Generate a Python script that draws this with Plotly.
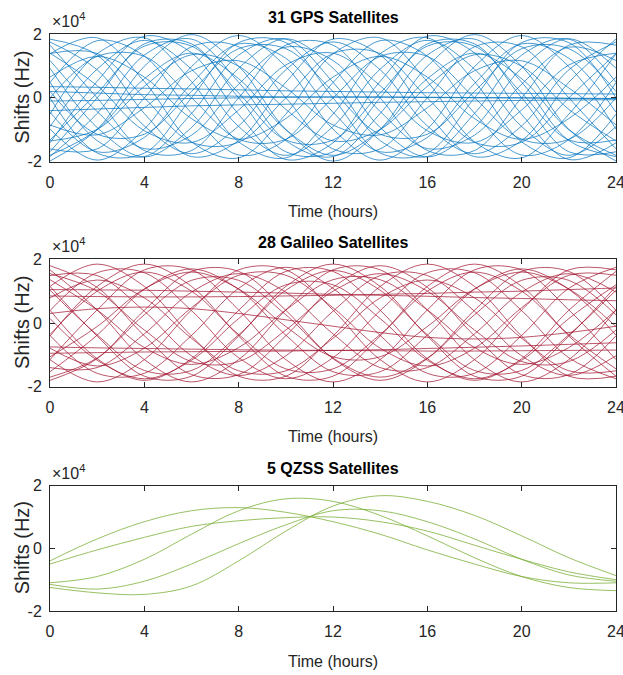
import plotly.graph_objects as go
from plotly.subplots import make_subplots

# ---------------- data (Doppler shifts in units of 10^4 Hz, sampled every 2 h) ----------------
hours = [0, 2, 4, 6, 8, 10, 12, 14, 16, 18, 20, 22, 24]

gps_shifts = [
    [1.75, 0.88, -0.88, -1.75, -0.88, 0.88, 1.75, 0.88, -0.88, -1.75, -0.88, 0.88, 1.75],
    [1.84, 1.34, -0.49, -1.84, -1.34, 0.49, 1.84, 1.34, -0.49, -1.84, -1.34, 0.49, 1.84],
    [1.39, 1.39, 0.0, -1.39, -1.39, 0.0, 1.39, 1.39, 0.0, -1.39, -1.39, 0.0, 1.39],
    [1.38, 1.88, 0.51, -1.38, -1.88, -0.51, 1.38, 1.88, 0.51, -1.38, -1.88, -0.51, 1.38],
    [0.65, 1.3, 0.65, -0.65, -1.3, -0.65, 0.65, 1.3, 0.65, -0.65, -1.3, -0.65, 0.65],
    [0.48, 1.79, 1.31, -0.48, -1.79, -1.31, 0.48, 1.79, 1.31, -0.48, -1.79, -1.31, 0.48],
    [0.0, 1.3, 1.3, 0.0, -1.3, -1.3, 0.0, 1.3, 1.3, 0.0, -1.3, -1.3, 0.0],
    [-0.51, 1.38, 1.88, 0.51, -1.38, -1.88, -0.51, 1.38, 1.88, 0.51, -1.38, -1.88, -0.51],
    [-0.9, 0.9, 1.8, 0.9, -0.9, -1.8, -0.9, 0.9, 1.8, 0.9, -0.9, -1.8, -0.9],
    [-1.41, 0.52, 1.93, 1.41, -0.52, -1.93, -1.41, 0.52, 1.93, 1.41, -0.52, -1.93, -1.41],
    [-1.69, 0.0, 1.69, 1.69, 0.0, -1.69, -1.69, 0.0, 1.69, 1.69, 0.0, -1.69, -1.69],
    [-1.32, 0.15, 1.62, 1.62, 0.15, -1.32, -1.32, 0.15, 1.62, 1.62, 0.15, -1.32, -1.32],
    [-1.84, -0.49, 1.34, 1.84, 0.49, -1.34, -1.84, -0.49, 1.34, 1.84, 0.49, -1.34, -1.84],
    [-1.8, -1.0, 0.6, 1.4, 0.6, -1.0, -1.8, -1.0, 0.6, 1.4, 0.6, -1.0, -1.8],
    [-1.98, -0.99, 0.99, 1.98, 0.99, -0.99, -1.98, -0.99, 0.99, 1.98, 0.99, -0.99, -1.98],
    [-1.35, -0.99, 0.36, 1.35, 0.99, -0.36, -1.35, -0.99, 0.36, 1.35, 0.99, -0.36, -1.35],
    [-1.6, -1.6, 0.0, 1.6, 1.6, 0.0, -1.6, -1.6, 0.0, 1.6, 1.6, 0.0, -1.6],
    [-0.85, -1.16, -0.31, 0.85, 1.16, 0.31, -0.85, -1.16, -0.31, 0.85, 1.16, 0.31, -0.85],
    [-0.98, -1.95, -0.98, 0.98, 1.95, 0.98, -0.98, -1.95, -0.98, 0.98, 1.95, 0.98, -0.98],
    [-0.45, -1.69, -1.24, 0.45, 1.69, 1.24, -0.45, -1.69, -1.24, 0.45, 1.69, 1.24, -0.45],
    [0.0, -1.73, -1.73, 0.0, 1.73, 1.73, 0.0, -1.73, -1.73, 0.0, 1.73, 1.73, 0.0],
    [0.2, -1.14, -1.14, 0.2, 1.54, 1.54, 0.2, -1.14, -1.14, 0.2, 1.54, 1.54, 0.2],
    [0.49, -1.34, -1.84, -0.49, 1.34, 1.84, 0.49, -1.34, -1.84, -0.49, 1.34, 1.84, 0.49],
    [0.93, -0.93, -1.85, -0.93, 0.93, 1.85, 0.93, -0.93, -1.85, -0.93, 0.93, 1.85, 0.93],
    [1.17, -0.43, -1.59, -1.17, 0.43, 1.59, 1.17, -0.43, -1.59, -1.17, 0.43, 1.59, 1.17],
    [1.65, 0.0, -1.65, -1.65, 0.0, 1.65, 1.65, 0.0, -1.65, -1.65, 0.0, 1.65, 1.65],
    [1.4, 0.38, -1.03, -1.4, -0.38, 1.03, 1.4, 0.38, -1.03, -1.4, -0.38, 1.03, 1.4],
    [0.35, 0.33, 0.3, 0.28, 0.25, 0.22, 0.2, 0.18, 0.16, 0.15, 0.14, 0.13, 0.12],
    [0.2, 0.15, 0.1, 0.08, 0.05, 0.03, 0.02, 0.02, 0.01, 0.0, 0.0, -0.01, -0.02],
    [-0.1, -0.08, -0.05, -0.02, 0.0, 0.02, 0.03, 0.03, 0.02, 0.01, 0.0, -0.02, -0.03],
    [-0.4, -0.35, -0.3, -0.25, -0.22, -0.2, -0.17, -0.14, -0.12, -0.1, -0.08, -0.07, -0.06],
]

galileo_shifts = [
    [1.8, 1.12, -0.4, -1.62, -1.62, -0.4, 1.12, 1.8, 1.12, -0.4, -1.62, -1.62, -0.4],
    [1.49, 1.49, 0.37, -1.03, -1.65, -1.03, 0.37, 1.49, 1.49, 0.37, -1.03, -1.65, -1.03],
    [1.15, 1.85, 1.15, -0.41, -1.67, -1.67, -0.41, 1.15, 1.85, 1.15, -0.41, -1.67, -1.67],
    [0.39, 1.58, 1.58, 0.39, -1.09, -1.75, -1.09, 0.39, 1.58, 1.58, 0.39, -1.09, -1.75],
    [-0.36, 1.0, 1.6, 1.0, -0.36, -1.44, -1.44, -0.36, 1.0, 1.6, 1.0, -0.36, -1.44],
    [-1.15, 0.41, 1.67, 1.67, 0.41, -1.15, -1.85, -1.15, 0.41, 1.67, 1.67, 0.41, -1.15],
    [-1.53, -0.38, 1.06, 1.7, 1.06, -0.38, -1.53, -1.53, -0.38, 1.06, 1.7, 1.06, -0.38],
    [-1.8, -1.12, 0.4, 1.62, 1.62, 0.4, -1.12, -1.8, -1.12, 0.4, 1.62, 1.62, 0.4],
    [-1.4, -1.4, -0.34, 0.97, 1.55, 0.97, -0.34, -1.4, -1.4, -0.34, 0.97, 1.55, 0.97],
    [-1.15, -1.85, -1.15, 0.41, 1.67, 1.67, 0.41, -1.15, -1.85, -1.15, 0.41, 1.67, 1.67],
    [-0.39, -1.58, -1.58, -0.39, 1.09, 1.75, 1.09, -0.39, -1.58, -1.58, -0.39, 1.09, 1.75],
    [0.4, -1.12, -1.8, -1.12, 0.4, 1.62, 1.62, 0.4, -1.12, -1.8, -1.12, 0.4, 1.62],
    [1.03, -0.37, -1.49, -1.49, -0.37, 1.03, 1.65, 1.03, -0.37, -1.49, -1.49, -0.37, 1.03],
    [1.67, 0.41, -1.15, -1.85, -1.15, 0.41, 1.67, 1.67, 0.41, -1.15, -1.85, -1.15, 0.41],
    [1.55, 1.0, -0.22, -1.21, -1.21, -0.22, 1.0, 1.55, 1.0, -0.22, -1.21, -1.21, -0.22],
    [0.79, 1.35, 0.79, -0.48, -1.5, -1.5, -0.48, 0.79, 1.35, 0.79, -0.48, -1.5, -1.5],
    [-0.41, 1.15, 1.85, 1.15, -0.41, -1.67, -1.67, -0.41, 1.15, 1.85, 1.15, -0.41, -1.67],
    [-1.06, -0.11, 1.07, 1.6, 1.07, -0.11, -1.06, -1.06, -0.11, 1.07, 1.6, 1.07, -0.11],
    [-1.7, -1.1, 0.26, 1.34, 1.34, 0.26, -1.1, -1.7, -1.1, 0.26, 1.34, 1.34, 0.26],
    [-0.79, -1.35, -0.79, 0.48, 1.5, 1.5, 0.48, -0.79, -1.35, -0.79, 0.48, 1.5, 1.5],
    [0.14, -1.17, -1.75, -1.17, 0.14, 1.2, 1.2, 0.14, -1.17, -1.75, -1.17, 0.14, 1.2],
    [1.15, -0.41, -1.67, -1.67, -0.41, 1.15, 1.85, 1.15, -0.41, -1.67, -1.67, -0.41, 1.15],
    [1.36, 0.41, -0.77, -1.3, -0.77, 0.41, 1.36, 1.36, 0.41, -0.77, -1.3, -0.77, 0.41],
    [1.05, 1.04, 1.03, 1.0, 0.97, 0.94, 0.9, 0.87, 0.84, 0.8, 0.77, 0.73, 0.7],
    [0.85, 0.83, 0.82, 0.82, 0.83, 0.85, 0.87, 0.9, 0.93, 0.97, 1.0, 1.05, 1.1],
    [-0.95, -0.93, -0.91, -0.9, -0.89, -0.88, -0.86, -0.84, -0.8, -0.76, -0.72, -0.67, -0.62],
    [-0.75, -0.78, -0.8, -0.82, -0.84, -0.85, -0.86, -0.87, -0.88, -0.88, -0.87, -0.86, -0.85],
    [0.3, 0.45, 0.5, 0.45, 0.3, 0.1, -0.1, -0.3, -0.45, -0.5, -0.45, -0.3, -0.1],
]

qzss_shifts = [
    [-0.4, 0.3, 0.85, 1.2, 1.3, 1.15, 0.85, 0.45, -0.05, -0.5, -0.9, -1.1, -1.1],
    [-0.5, -0.05, 0.35, 0.7, 0.88, 0.98, 1.0, 0.85, 0.55, 0.1, -0.35, -0.75, -1.0],
    [-1.1, -0.9, -0.35, 0.45, 1.2, 1.58, 1.5, 1.05, 0.4, -0.3, -0.9, -1.25, -1.35],
    [-1.15, -1.3, -1.05, -0.5, 0.15, 0.75, 1.2, 1.2, 0.85, 0.3, -0.35, -0.85, -1.05],
    [-1.25, -1.42, -1.47, -1.2, -0.4, 0.55, 1.35, 1.68, 1.5, 1.05, 0.4, -0.3, -0.87],
]

panel_titles = ["31 GPS Satellites", "28 Galileo Satellites", "5 QZSS Satellites"]
panel_colors = ["rgba(0,114,189,0.8)", "rgba(162,20,47,0.8)", "rgba(119,172,48,0.85)"]
x_ticks = [0, 4, 8, 12, 16, 20, 24]
y_ticks = [-2, 0, 2]
y_ticktext = ["-2", "0", "2"]

# ---------------- figure ----------------
FONT = "Liberation Sans, Arial, sans-serif"
AXC = "#262626"

fig = make_subplots(rows=3, cols=1)
domains = [[0.7787, 1.0], [0.3887, 0.6095], [0.0, 0.2172]]

for row, (series, color) in enumerate(zip([gps_shifts, galileo_shifts, qzss_shifts], panel_colors), start=1):
    for s in series:
        fig.add_trace(go.Scatter(x=hours, y=s, mode="lines",
                                 line=dict(color=color, width=0.9, shape="spline", smoothing=1.0),
                                 showlegend=False, hoverinfo="skip"), row=row, col=1)

for i in range(3):
    sfx = "" if i == 0 else str(i + 1)
    fig.layout["xaxis" + sfx].update(
        domain=[0, 1], range=[0, 24], tickvals=x_ticks, ticks="inside", ticklen=5,
        tickcolor=AXC, showline=True, linecolor=AXC, linewidth=1, mirror="ticks",
        showgrid=False, zeroline=False, tickfont=dict(family=FONT, size=16, color=AXC),
        ticklabelstandoff=6, ticklabeloverflow="allow", automargin=False)
    fig.layout["yaxis" + sfx].update(
        domain=domains[i], range=[-2, 2], tickvals=y_ticks, ticktext=y_ticktext,
        ticks="inside", ticklen=5, tickcolor=AXC, showline=True, linecolor=AXC,
        linewidth=1, mirror="ticks", showgrid=False, zeroline=False,
        tickfont=dict(family=FONT, size=16, color=AXC), ticklabelstandoff=4,
        ticklabeloverflow="allow", automargin=False)
    xr = "x" + sfx + " domain"
    yr = "y" + sfx + " domain"
    # panel title
    fig.add_annotation(text="<b>" + panel_titles[i] + "</b>", xref=xr, yref=yr, x=0.5, y=1,
                       yshift=17, xanchor="center", yanchor="middle", showarrow=False,
                       font=dict(family=FONT, size=16, color="black"))
    # exponent label
    fig.add_annotation(text="×10<sup>4</sup>", xref=xr, yref=yr, x=0, y=1, yshift=14,
                       xanchor="left", yanchor="middle", showarrow=False,
                       font=dict(family=FONT, size=16, color=AXC))
    # x axis title
    fig.add_annotation(text="Time (hours)", xref=xr, yref=yr, x=0.5, y=0, yshift=-50,
                       xanchor="center", yanchor="middle", showarrow=False,
                       font=dict(family=FONT, size=16, color=AXC))
    # y axis title
    fig.add_annotation(text="Shifts (Hz)", xref=xr, yref=yr, x=0, y=0.5, xshift=-28,
                       xanchor="center", yanchor="middle", textangle=-90, showarrow=False,
                       font=dict(family=FONT, size=20, color=AXC))

fig.update_layout(width=623, height=675, autosize=False,
                  margin=dict(l=50, r=7, t=34, b=64),
                  plot_bgcolor="white", paper_bgcolor="white")

fig.write_html("out.html")
